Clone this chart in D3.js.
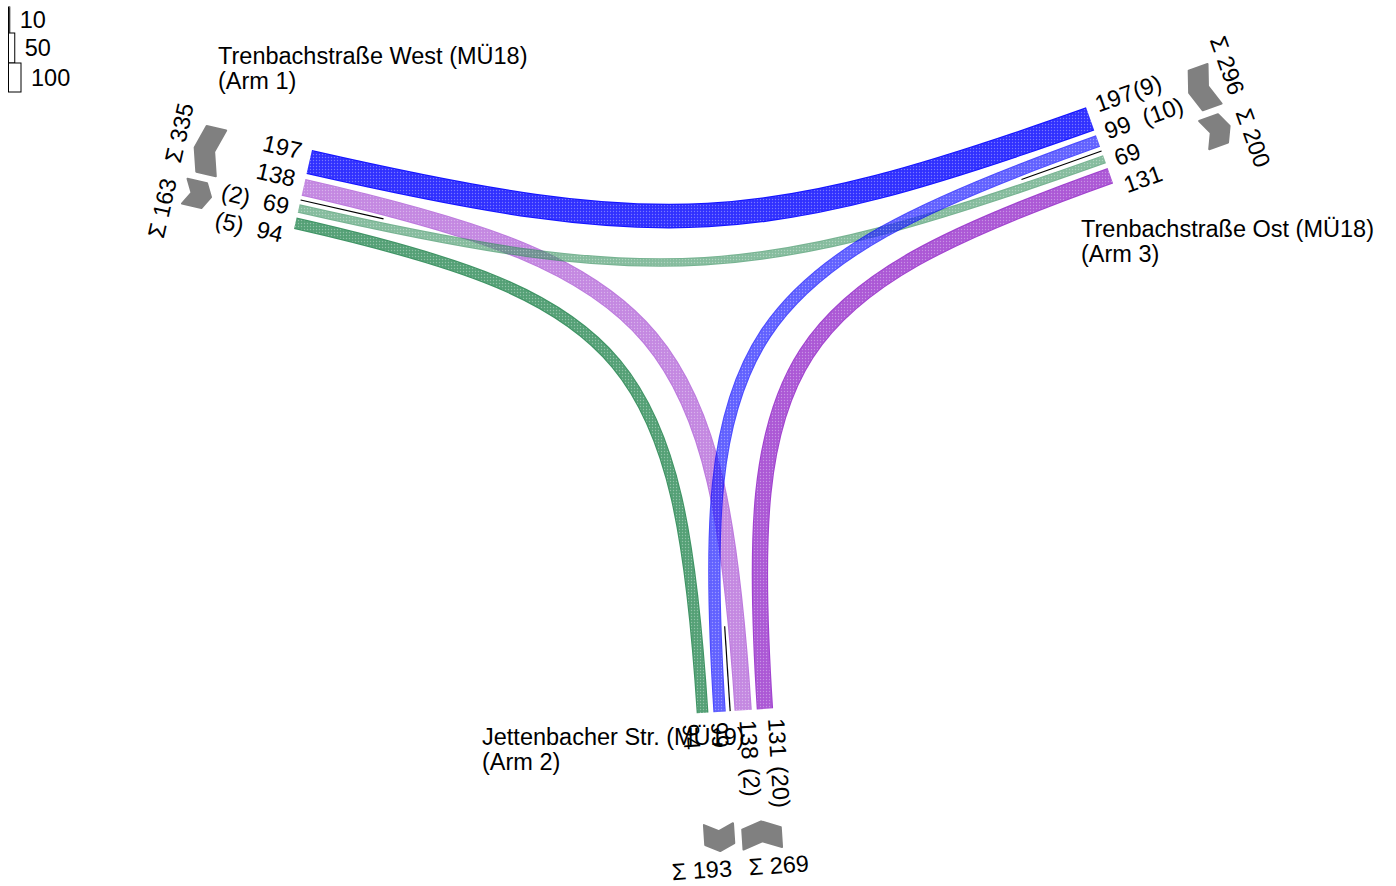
<!DOCTYPE html>
<html>
<head>
<meta charset="utf-8">
<script src="https://cdn.jsdelivr.net/npm/d3@7"></script>
<style>
html, body { margin: 0; padding: 0; background: #fff; }
svg { display: block; font-family: "Liberation Sans", Arial, sans-serif; }
</style>
</head>
<body>
<div id="chart"></div>
<script>
// Daten
const armNames = ['Trenbachstraße West (MÜ18)', 'Jettenbacher Str. (MÜ19)', 'Trenbachstraße Ost (MÜ18)'];
const armSubs = ['(Arm 1)', '(Arm 2)', '(Arm 3)'];
const flowFrom = [3, 2, 1, 1, 3, 2];
const flowTo = [1, 1, 3, 2, 2, 3];
const flowValue = [197, 138, 69, 94, 99, 131];
const flowHeavy = [9, 2, 2, 5, 10, 20];
// Reihenfolge der Ströme quer über jedes Armende
const armSlots = [[0, 1, 2, 3], [3, 4, 1, 5], [0, 4, 2, 5]];
const legendValues = [10, 50, 100];

// Stil
const flowColor = ['#0000ff', '#9932cc', '#2e8b57', '#2e8b57', '#0000ff', '#9932cc'];
const flowOpacity = [0.92, 0.65, 0.65, 0.92, 0.7, 0.92];

// Layout der Arme (Ankerpunkt am Rand des ersten Stroms, Richtung nach außen)
const arms = [
	{ x: 312, y: 150, angle: 192.8, side: -1, chev: 88, sum: 133, hv: 50, title: [218, 64] },
	{ x: 696.7, y: 713.3, angle: 86.3, side: -1, chev: 112, sum: 157, hv: 58, title: [482, 745] },
	{ x: 1086, y: 107.3, angle: -19.6, side: 1, chev: 102, sum: 147, hv: 50, title: [1081, 237] },
];

const width = 1396;
const height = 886;
const fontSize = 23.5;
const gap = 5;
const divGap = 8.8;
const labelStep = 28.5;

const wScale = d3.scaleLinear().domain([0, 100]).range([0, 12.5]);

const svg = d3
	.select('#chart')
	.append('svg')
	.attr('width', width)
	.attr('height', height);

const defs = svg.append('defs');
defs
	.append('pattern')
	.attr('id', 'dots')
	.attr('width', 3)
	.attr('height', 3)
	.attr('patternUnits', 'userSpaceOnUse')
	.append('circle')
	.attr('cx', 1.5)
	.attr('cy', 1.5)
	.attr('r', 0.7)
	.attr('fill', '#fff')
	.attr('opacity', 0.35);

// Geometrie je Arm berechnen
arms.forEach((a, ai) => {
	const t = (a.angle * Math.PI) / 180;
	a.u = [Math.cos(t), Math.sin(t)];
	a.n = [-Math.sin(t) * a.side, Math.cos(t) * a.side];
	a.slots = [];
	let s = 0;
	armSlots[ai].forEach((f, k) => {
		if (k === 2) s += divGap;
		else if (k > 0) s += gap;
		const w = wScale(flowValue[f]);
		a.slots.push({ flow: f, start: s, end: s + w, center: s + w / 2 });
		s += w;
	});
	a.pt = (uu, nn) => [a.x + uu * a.u[0] + nn * a.n[0], a.y + uu * a.u[1] + nn * a.n[1]];
	a.textAngle = Math.cos(t) >= 0 ? a.angle : a.angle - 180;
	a.outAnchor = Math.cos(t) >= 0 ? 'start' : 'end';
});

function slotOf(armIdx, f) {
	return arms[armIdx].slots.find((s) => s.flow === f);
}

// Ströme zeichnen
const bands = svg.append('g');
flowValue.forEach((v, f) => {
	const A = arms[flowFrom[f] - 1];
	const B = arms[flowTo[f] - 1];
	const p0 = A.pt(0, slotOf(flowFrom[f] - 1, f).center);
	const p3 = B.pt(0, slotOf(flowTo[f] - 1, f).center);
	const d0 = [-A.u[0], -A.u[1]];
	const d3v = [-B.u[0], -B.u[1]];
	const dx = p3[0] - p0[0];
	const dy = p3[1] - p0[1];
	// Schnittpunkt der beiden Armachsen bestimmt die Kontrollpunkte
	const det = -d0[0] * d3v[1] + d3v[0] * d0[1];
	const ta = (-dx * d3v[1] + d3v[0] * dy) / det;
	const tb = (d0[0] * dy - d0[1] * dx) / det;
	const k = 0.88;
	const c1 = [p0[0] + k * ta * d0[0], p0[1] + k * ta * d0[1]];
	const c2 = [p3[0] + k * tb * d3v[0], p3[1] + k * tb * d3v[1]];
	const pathStr = `M${p0[0]},${p0[1]}C${c1[0]},${c1[1]} ${c2[0]},${c2[1]} ${p3[0]},${p3[1]}`;
	const w = wScale(v);
	const g = bands.append('g').attr('opacity', flowOpacity[f]);
	g.append('path')
		.attr('d', pathStr)
		.attr('fill', 'none')
		.attr('stroke', flowColor[f])
		.attr('stroke-width', w);
	// etwas hellerer Kern, damit der Rand als Kontur sichtbar bleibt
	g.append('path')
		.attr('d', pathStr)
		.attr('fill', 'none')
		.attr('stroke', '#fff')
		.attr('stroke-opacity', 0.12)
		.attr('stroke-width', Math.max(0, w - 2));
	g.append('path')
		.attr('d', pathStr)
		.attr('fill', 'none')
		.attr('stroke', 'url(#dots)')
		.attr('stroke-width', Math.max(0, w - 2.5));
});

// Beschriftung je Arm
arms.forEach((a, ai) => {
	const g = svg.append('g');

	// Trennlinie zwischen ab- und zufließenden Strömen
	const nd = (a.slots[1].end + a.slots[2].start) / 2;
	const l0 = a.pt(0, nd);
	const l1 = a.pt(-85, nd);
	g.append('line')
		.attr('x1', l0[0]).attr('y1', l0[1])
		.attr('x2', l1[0]).attr('y2', l1[1])
		.attr('stroke', '#000')
		.attr('stroke-width', 1.2);

	// Werte
	const mean = d3.mean(a.slots, (s) => s.center);
	a.slots.forEach((s, k) => {
		const nn = mean + (k - 1.5) * labelStep;
		const p = a.pt(10, nn);
		g.append('text')
			.attr('transform', `translate(${p[0]},${p[1]}) rotate(${a.textAngle})`)
			.attr('text-anchor', a.outAnchor)
			.attr('dominant-baseline', 'central')
			.attr('font-size', fontSize)
			.text(flowValue[s.flow]);
		if (flowFrom[s.flow] === ai + 1) {
			const q = a.pt(a.hv, nn);
			g.append('text')
				.attr('transform', `translate(${q[0]},${q[1]}) rotate(${a.textAngle})`)
				.attr('text-anchor', a.outAnchor)
				.attr('dominant-baseline', 'central')
				.attr('font-size', fontSize)
				.text(`(${flowHeavy[s.flow]})`);
		}
	});

	// Summen mit Richtungspfeilen
	let sumRot = a.textAngle - 90;
	if (Math.cos((sumRot * Math.PI) / 180) < 0) sumRot += 180;
	const rr = (sumRot * Math.PI) / 180;
	const rd = Math.cos(rr) * a.n[0] + Math.sin(rr) * a.n[1] > 0 ? 1 : -1;
	[0, 1].forEach((gi) => {
		const grp = a.slots.slice(gi * 2, gi * 2 + 2);
		const g0 = grp[0].start;
		const g1 = grp[1].end;
		const total = d3.sum(grp, (s) => flowValue[s.flow]);
		const out = flowTo[grp[0].flow] === ai + 1;
		const th = 20;
		const kk = 7;
		// ausfahrend: Spitze nach außen, einfahrend: Spitze nach innen
		const uEnd = out ? a.chev : a.chev + kk;
		const uMid = out ? a.chev + kk : a.chev;
		const nm = (g0 + g1) / 2;
		const poly = [
			[uEnd, g0], [uMid, nm], [uEnd, g1],
			[uEnd + th, g1], [uMid + th, nm], [uEnd + th, g0],
		].map((d) => a.pt(d[0], d[1]));
		g.append('polygon')
			.attr('points', poly.map((p) => p.join(',')).join(' '))
			.attr('fill', '#808080')
			.attr('stroke', '#808080')
			.attr('stroke-width', 2)
			.attr('stroke-linejoin', 'round');

		const nn = gi === 0 ? g1 - 4 : g0 + 4;
		const p = a.pt(a.sum, nn);
		let anchor;
		if (gi === 0) anchor = rd > 0 ? 'end' : 'start';
		else anchor = rd > 0 ? 'start' : 'end';
		g.append('text')
			.attr('transform', `translate(${p[0]},${p[1]}) rotate(${sumRot})`)
			.attr('text-anchor', anchor)
			.attr('dominant-baseline', 'central')
			.attr('font-size', fontSize)
			.text(`Σ ${total}`);
	});

	// Name des Arms
	const tt = g.append('text')
		.attr('x', a.title[0])
		.attr('y', a.title[1])
		.attr('font-size', fontSize);
	tt.append('tspan').attr('x', a.title[0]).text(armNames[ai]);
	tt.append('tspan').attr('x', a.title[0]).attr('dy', 25).text(armSubs[ai]);
});

// Legende Bandbreite
const leg = svg.append('g');
let ly = 7;
const lh = [26, 30, 29];
legendValues.forEach((v, i) => {
	const w = wScale(v);
	leg.append('rect')
		.attr('x', 8.5)
		.attr('y', ly)
		.attr('width', w)
		.attr('height', lh[i])
		.attr('fill', '#fff')
		.attr('stroke', '#000')
		.attr('stroke-width', 1);
	leg.append('text')
		.attr('x', 8.5 + w + 10)
		.attr('y', ly + lh[i] / 2 + 8)
		.attr('font-size', fontSize)
		.text(v);
	ly += lh[i];
});
</script>
</body>
</html>
